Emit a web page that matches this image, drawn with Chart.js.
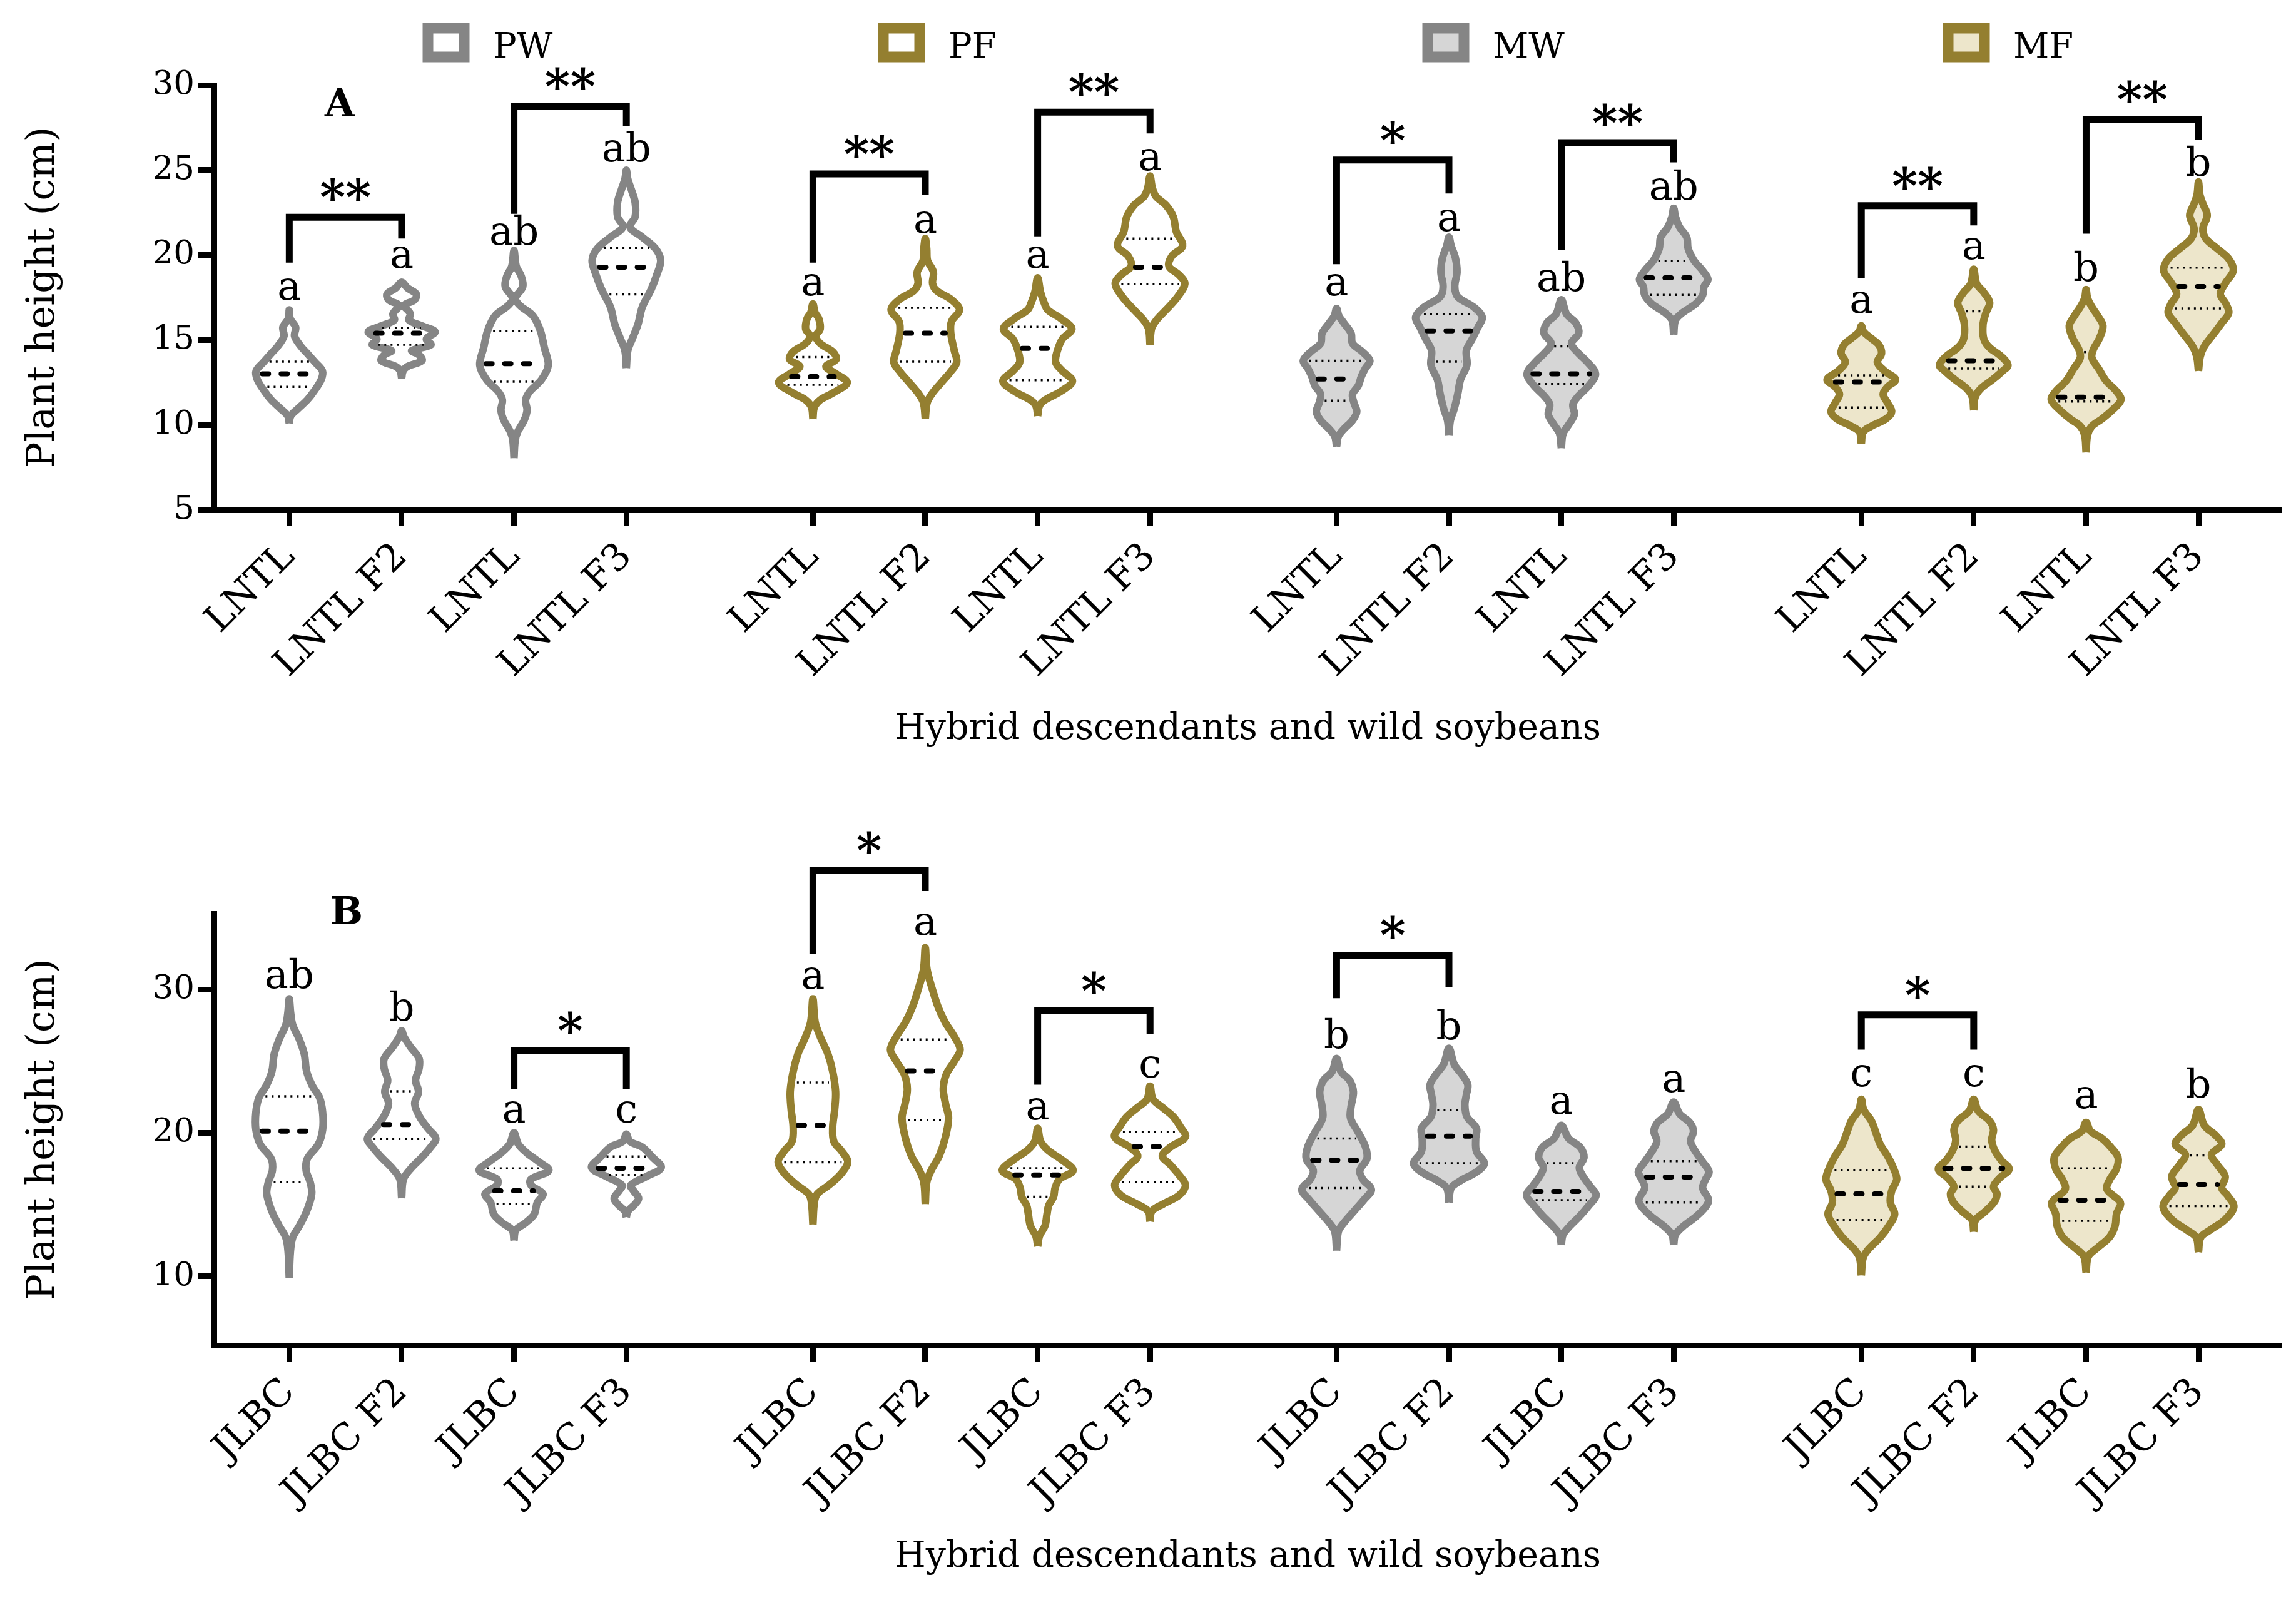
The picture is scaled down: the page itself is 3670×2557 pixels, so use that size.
<!DOCTYPE html>
<html>
<head>
<meta charset="utf-8">
<script src="https://cdn.jsdelivr.net/npm/chart.js@4.4.1/dist/chart.umd.min.js"></script>
<style>
html,body{margin:0;padding:0;background:#fff}
#wrapA{position:absolute;left:0;top:0;width:3670px;height:1240px}
#wrapB{position:absolute;left:0;top:1240px;width:3670px;height:1317px}
</style>
</head>
<body>
<div id="wrapA"><canvas id="chartA"></canvas></div>
<div id="wrapB"><canvas id="chartB"></canvas></div>
<script>
/* Categories */
const groupNames = ['PW', 'PF', 'MW', 'MF'];
const xPos = [0, 1, 2, 3, 4.66, 5.66, 6.66, 7.66, 9.32, 10.32, 11.32, 12.32, 13.99, 14.99, 15.99, 16.99];
const labelsA = ['LNTL','LNTL F2','LNTL','LNTL F3','LNTL','LNTL F2','LNTL','LNTL F3','LNTL','LNTL F2','LNTL','LNTL F3','LNTL','LNTL F2','LNTL','LNTL F3'];
const labelsB = ['JLBC','JLBC F2','JLBC','JLBC F3','JLBC','JLBC F2','JLBC','JLBC F3','JLBC','JLBC F2','JLBC','JLBC F3','JLBC','JLBC F2','JLBC','JLBC F3'];
const yTicksA = [5, 10, 15, 20, 25, 30];
const yTicksB = [10, 20, 30];

/* Violin outlines: [height cm, half width in % of category spacing], bottom tip -> top tip */
const shapesA = [
  [[10.10,0],[10.53,1.3],[10.96,7.8],[11.47,16],[11.98,22],[12.67,28.4],[13.18,29.5],[13.69,23],[14.21,16],[14.63,10.3],[15.23,4.7],[15.75,5.7],[16.26,0.8],[16.77,0]],
  [[12.75,0],[13.18,1.3],[13.44,5.2],[13.78,18],[14.12,15.5],[14.38,9],[14.72,26],[15.06,22],[15.49,29.7],[15.83,18],[16.17,6.5],[16.52,7.8],[16.77,5.2],[17.03,2],[17.37,11.6],[17.71,13],[18.06,5.2],[18.40,0]],
  [[8.05,0],[9.07,1],[9.58,3.1],[10.27,9],[10.87,11.6],[11.47,10.3],[11.98,14.2],[12.67,24.5],[13.52,30.5],[14.55,27],[15.58,23.3],[16.43,16.8],[17.03,5.2],[17.46,1.3],[18.14,7.8],[18.74,6.5],[19.34,2],[20.28,0]],
  [[13.35,0],[14.38,1.3],[15.06,5.2],[15.92,10.3],[16.94,14.2],[17.97,22],[18.83,27],[19.68,30.5],[20.37,26],[21.05,14.2],[21.65,3.1],[22.25,7.8],[23.10,7.8],[23.79,4.7],[24.47,1.3],[24.99,0]],
  [[10.36,0],[11.04,1.3],[11.47,6.5],[11.89,18],[12.49,30.5],[13.01,20.7],[13.44,11.6],[13.86,20.7],[14.29,18],[14.80,6.5],[15.23,2.6],[15.66,6.5],[16.26,5.2],[16.60,2],[17.12,0]],
  [[10.36,0],[11.30,1.6],[11.81,5.7],[12.49,14.2],[13.09,22],[13.69,28],[14.38,25.8],[15.40,22.7],[16.09,23.3],[16.77,30.5],[17.37,23.3],[17.89,10.3],[18.31,6.5],[19.00,7.2],[19.68,2],[20.37,1.3],[20.97,0]],
  [[10.53,0],[11.13,1.6],[11.47,6.5],[11.98,20.7],[12.58,31],[13.18,22],[13.69,16],[14.38,17.6],[15.06,22],[15.66,30.5],[16.26,20.7],[16.77,9],[17.20,5.7],[17.80,2.6],[18.66,0]],
  [[14.72,0],[15.66,1.3],[16.17,5.7],[16.77,14.2],[17.54,24.5],[18.31,31],[18.83,25.8],[19.34,16.8],[19.94,19.4],[20.54,29],[21.39,23.3],[22.25,20.7],[22.93,14.2],[23.45,5.2],[23.96,2],[24.65,0]],
  [[8.73,0],[9.33,1.6],[9.76,6.5],[10.27,14.2],[10.78,18],[11.30,15.5],[11.81,14.2],[12.32,19.4],[12.84,22],[13.35,25.8],[13.78,29.7],[14.29,23.3],[14.80,14.2],[15.40,12.9],[16.00,6.5],[16.43,2],[16.86,0]],
  [[9.41,0],[10.27,1.3],[10.95,4.7],[11.81,7.8],[12.67,10.3],[13.52,16],[14.38,15.5],[15.06,20.7],[15.75,25.8],[16.34,29.7],[16.94,22],[17.54,7.8],[18.14,5.2],[19.00,7.2],[19.85,5.7],[20.54,2],[21.05,0]],
  [[8.64,0],[9.50,1.6],[10.01,6.5],[10.61,11.6],[11.21,10.3],[11.72,15.5],[12.32,24.5],[13.01,30.5],[13.69,23.3],[14.29,14.2],[14.80,9],[15.40,15.5],[16.00,12.9],[16.52,4.7],[17.37,0]],
  [[15.32,0],[16.17,1.6],[16.60,7.8],[17.12,19.4],[17.63,25.8],[18.14,27],[18.57,30.5],[19.08,25.8],[19.68,18],[20.37,12.9],[21.05,11.6],[21.65,5.2],[22.25,1.6],[22.76,0]],
  [[8.90,0],[9.58,1.6],[9.93,9],[10.36,22],[10.78,27],[11.30,23.3],[11.81,19.4],[12.24,23.3],[12.67,30.5],[13.18,20.7],[13.69,14.2],[14.21,18],[14.72,15.5],[15.15,7.8],[15.49,2],[15.83,0]],
  [[10.87,0],[11.64,1.3],[12.15,6.5],[12.67,16.8],[13.18,25.8],[13.52,30.5],[14.04,24.5],[14.55,14.2],[15.06,9],[15.92,8.3],[16.60,10.9],[17.20,14.2],[17.80,9],[18.31,2.6],[19.17,0]],
  [[8.39,0],[9.41,1.3],[9.93,5.2],[10.36,14.2],[10.87,23.3],[11.47,31],[11.98,27],[12.58,18],[13.26,11.6],[13.95,5.2],[14.46,6.5],[15.06,11.6],[15.83,15],[16.43,10.3],[16.94,5.2],[17.46,1.3],[17.97,0]],
  [[13.18,0],[14.04,1.6],[14.63,5.2],[15.32,13],[16.00,20.7],[16.60,27],[17.12,24.5],[17.71,19.4],[18.40,24.5],[19.08,31],[19.77,27],[20.37,16.8],[20.97,6.5],[21.56,3.9],[22.34,7.8],[23.02,3.9],[23.53,1.3],[24.30,0]]
];
const shapesB = [
  [[9.88,0],[11.70,1],[12.72,3.1],[13.53,9],[14.55,15.5],[15.76,20],[16.58,18.6],[17.39,15],[18.20,16],[19.21,25.8],[20.23,29.7],[21.45,29.7],[22.46,27],[23.27,20.7],[24.29,15.5],[25.50,13.4],[26.52,9],[27.53,3.1],[28.34,1.3],[29.36,0]],
  [[15.46,0],[16.78,1.6],[17.49,7.8],[18.30,18],[19.01,25.8],[19.62,30.5],[20.33,23.3],[21.14,16],[22.05,11.6],[22.87,15],[23.68,12.4],[24.49,15.5],[25.20,15.5],[26.01,7.8],[26.72,2],[27.13,0]],
  [[12.52,0],[13.23,1.6],[13.74,10.3],[14.34,18],[15.16,20.7],[15.76,25.8],[16.37,15],[16.78,15],[17.39,31],[18.00,22],[18.60,11.6],[19.21,3.9],[20.02,0]],
  [[14.14,0],[14.55,1.3],[15.05,7.8],[15.46,10.9],[15.97,6.5],[16.37,3.9],[16.98,18],[17.59,31],[18.30,23.3],[19.01,14.2],[19.42,3.1],[19.92,0]],
  [[13.63,0],[15.16,1.3],[15.76,3.9],[16.37,14.2],[17.18,25.3],[17.99,31],[18.71,25.8],[19.42,18.6],[20.43,17.6],[21.65,19.4],[22.87,20.2],[24.29,17.6],[25.50,13.4],[26.72,6.5],[27.74,2],[29.36,0]],
  [[15.05,0],[16.57,1.3],[17.39,5.2],[18.40,12.4],[19.62,17.6],[21.04,20.7],[22.05,18],[23.07,16],[24.08,18.6],[25.00,25.8],[25.81,31],[26.72,25.8],[27.74,17.6],[28.75,11.6],[29.97,6.5],[31.39,1.6],[32.91,0]],
  [[12.11,0],[12.82,1.6],[13.53,6.5],[14.34,8.3],[14.95,9.8],[15.56,14.2],[16.17,15.5],[16.78,19.4],[17.39,31.5],[18.10,22],[18.81,9],[19.42,2.6],[20.33,0]],
  [[13.84,0],[14.55,1.6],[15.05,11.6],[15.66,25.8],[16.37,31.5],[17.08,25.8],[17.79,18],[18.40,10.9],[19.01,18],[19.72,31.5],[20.43,27],[21.14,20.7],[21.75,11.6],[22.36,2.6],[23.27,0]],
  [[11.81,0],[13.13,1.6],[13.74,6.5],[14.55,15.5],[15.36,24.5],[16.07,31],[16.78,23.3],[17.39,20.7],[18.20,27],[19.01,25.8],[20.03,19.4],[21.04,12.4],[21.85,12.9],[22.87,15],[23.68,11.6],[24.29,3.9],[25.20,0]],
  [[15.16,0],[16.17,2],[16.68,10.3],[17.29,24.5],[17.89,31.5],[18.71,24.5],[19.62,23.8],[20.33,24.5],[21.14,16],[21.95,14.2],[22.66,15.5],[23.37,16.8],[24.08,11.6],[24.79,4.7],[25.91,0]],
  [[12.21,0],[12.92,1.6],[13.53,7.8],[14.24,16.8],[14.95,24.5],[15.66,31],[16.27,25.8],[16.98,19.4],[17.59,16],[18.30,20.2],[19.01,16.8],[19.62,6.5],[20.53,0]],
  [[12.21,0],[12.92,1.6],[13.53,9],[14.14,19.4],[14.85,28.4],[15.36,31],[16.17,25.8],[16.78,28.4],[17.29,31.5],[17.99,25.8],[18.71,19.4],[19.42,15],[20.13,17.6],[20.74,14.2],[21.34,5.2],[22.16,0]],
  [[10.08,0],[11.30,1.6],[11.91,6.5],[12.72,16.8],[13.53,24.5],[14.34,29.7],[15.16,25.8],[15.97,27],[16.78,31.5],[17.59,28.4],[18.40,23.3],[19.21,16.8],[20.03,12.9],[20.84,9],[21.65,2],[22.36,0]],
  [[13.13,0],[13.94,1.6],[14.45,9],[15.16,18],[15.76,20.7],[16.27,17.6],[16.88,23.3],[17.49,31.5],[18.10,24.5],[18.81,18.6],[19.52,16],[20.23,17.6],[20.84,14.2],[21.55,3.9],[22.36,0]],
  [[10.28,0],[11.40,2],[12.01,10.3],[12.72,20.7],[13.53,25.8],[14.34,27],[15.16,30.5],[16.07,18.6],[16.78,21.2],[17.49,27],[18.30,28.4],[19.01,22],[19.62,14.2],[20.13,3.9],[20.74,0]],
  [[11.70,0],[12.72,2],[13.23,10.3],[13.94,23.3],[14.85,31.5],[15.66,25.8],[16.17,20.7],[16.98,23.8],[17.79,16.8],[18.50,11.6],[19.21,20.7],[19.82,15.5],[20.53,5.2],[21.65,0]]
];

/* Quartiles [Q1, median, Q3] */
const quartA = [[12.24,13.01,13.73],[14.72,15.40,15.71],[12.55,13.61,15.52],[17.68,19.29,20.42],
  [12.36,12.84,14.00],[13.73,15.40,16.89],[12.63,14.51,15.78],[18.28,19.29,20.97],
  [11.43,12.70,13.78],[13.73,15.54,16.52],[12.41,13.01,14.63],[17.66,18.66,19.65],
  [11.03,12.53,12.92],[13.32,13.78,16.69],[11.38,11.64,14.29],[16.86,18.14,19.26]];
const quartB = [[16.58,20.13,22.56],[19.58,20.59,22.91],[15.05,15.97,17.53],[17.08,17.55,18.36],
  [17.96,20.53,23.52],[20.90,24.33,26.52],[15.56,17.08,17.55],[16.58,19.05,20.07],
  [16.17,18.10,19.62],[17.89,19.78,21.61],[15.32,15.93,17.89],[15.16,16.94,18.04],
  [13.94,15.76,17.43],[16.27,17.53,19.05],[13.88,15.32,17.53],[14.91,16.41,18.44]];

/* Significance letters and where their baseline sits (cm) */
const lettersA = ['a','a','ab','ab','a','a','a','a','a','a','ab','ab','a','a','b','b'];
const letterYA = [17.37,19.25,20.62,25.5,17.63,21.31,19.25,24.99,17.63,21.43,17.89,23.28,16.6,19.77,18.49,24.65];
const lettersB = ['ab','b','a','c','a','a','a','c','b','b','a','a','c','c','a','b'];
const letterYB = [30.13,27.84,20.74,20.74,30.07,33.82,20.94,23.88,25.91,26.52,21.34,22.87,23.27,23.27,21.75,22.46];

/* Brackets: [from, to, top cm, left end cm, right end cm, stars] */
const bracketsA = [[0,1,22.22,19.55,20.97,'**'],[2,3,28.75,22.42,27.59,'**'],[4,5,24.77,19.55,23.53,'**'],[6,7,28.41,21.10,27.16,'**'],
  [8,9,25.59,19.46,23.62,'*'],[10,11,26.61,20.28,25.45,'**'],[12,13,22.90,18.66,21.74,'**'],[14,15,27.98,21.26,26.79,'**']];
const bracketsB = [[2,3,25.75,23.07,23.07,'*'],[4,5,38.29,32.50,36.87,'*'],[6,7,28.55,23.37,26.92,'*'],[8,9,32.40,29.40,30.17,'*'],[12,13,28.24,25.81,25.81,'*']];

/* Styles */
const strokeCol = ['#858585', '#947f30', '#858585', '#947f30'];
const fillCol = ['#ffffff', '#ffffff', '#d6d6d6', '#ede6cb'];
const FONT = 'DejaVu Serif';

function outline(shape, x) {
  const right = shape.map(([v, w]) => ({x: x + w / 100, y: v}));
  const left = shape.slice(0, -1).reverse().map(([v, w]) => ({x: x - w / 100, y: v}));
  return right.concat(left);
}
function halfWidthAt(shape, v) {
  for (let k = 1; k < shape.length; k++) {
    const [v0, w0] = shape[k - 1], [v1, w1] = shape[k];
    if (v >= v0 && v <= v1) return (w0 + (w1 - w0) * (v - v0) / (v1 - v0)) / 100;
  }
  return 0;
}

function buildDatasets(shapes, quarts, brackets) {
  const common = {pointRadius: 0, pointHoverRadius: 0, clip: false};
  const ds = [];
  shapes.forEach((s, i) => {
    const g = Math.floor(i / 4);
    ds.push({...common, data: outline(s, xPos[i]), borderColor: strokeCol[g], backgroundColor: fillCol[g],
      fill: 'shape', borderWidth: 12, tension: 0.35, borderJoinStyle: 'round', order: 3});
    quarts[i].forEach((q, k) => {
      const hw = Math.max(0, halfWidthAt(s, q) * 0.96 - 0.04);
      const med = k === 1;
      ds.push({...common, data: [{x: xPos[i] - hw, y: q}, {x: xPos[i] + hw, y: q}], borderColor: '#000',
        borderWidth: med ? 8 : 3.5, borderDash: med ? [10, 20] : [3, 7], borderCapStyle: med ? 'round' : 'butt',
        fill: false, tension: 0, order: 1});
    });
  });
  brackets.forEach(([i, j, top, l, r]) => {
    ds.push({...common, data: [{x: xPos[i], y: l}, {x: xPos[i], y: top}, {x: xPos[j], y: top}, {x: xPos[j], y: r}],
      borderColor: '#000', borderWidth: 11, borderJoinStyle: 'miter', borderCapStyle: 'butt', fill: false, tension: 0, order: 2});
  });
  return ds;
}

/* letters, stars, panel tag and (panel A only) the legend */
function annotations(cfg) {
  return {
    id: 'annot' + cfg.panel,
    afterDatasetsDraw(chart) {
      const {ctx, scales: {x, y}} = chart;
      ctx.save();
      ctx.fillStyle = '#000';
      ctx.textAlign = 'center';
      ctx.textBaseline = 'alphabetic';
      ctx.font = `64px "${FONT}"`;
      cfg.letters.forEach((t, i) => ctx.fillText(t, x.getPixelForValue(xPos[i]), y.getPixelForValue(cfg.letterY[i])));
      ctx.font = `bold 78px "${FONT}"`;
      cfg.brackets.forEach(([i, j, top, , , s]) =>
        ctx.fillText(s, x.getPixelForValue((xPos[i] + xPos[j]) / 2), y.getPixelForValue(top) - 4));
      ctx.font = `bold 62px "${FONT}"`;
      ctx.fillText(cfg.panel, x.getPixelForValue(cfg.panelAt[0]), y.getPixelForValue(cfg.panelAt[1]));
      if (cfg.legend) {
        const boxX = [676, 1404, 2274, 3106];
        ctx.textAlign = 'left';
        ctx.font = `56px "${FONT}"`;
        groupNames.forEach((n, k) => {
          ctx.fillStyle = fillCol[k];
          ctx.fillRect(boxX[k] + 8, 45, 58, 46);
          ctx.strokeStyle = strokeCol[k];
          ctx.lineWidth = 17;
          ctx.strokeRect(boxX[k] + 8, 45, 58, 46);
          ctx.fillStyle = '#000';
          ctx.fillText(n, boxX[k] + 112, 92);
        });
      }
      ctx.restore();
    }
  };
}

function makeChart(id, cfg) {
  const axisBits = {
    grid: {drawOnChartArea: false, drawTicks: true, tickLength: 26, tickWidth: 9, tickColor: '#000'},
    border: {display: true, color: '#000', width: 9}
  };
  return new Chart(document.getElementById(id), {
    type: 'line',
    data: {datasets: buildDatasets(cfg.shapes, cfg.quarts, cfg.brackets)},
    options: {
      devicePixelRatio: 1, responsive: true, maintainAspectRatio: false, animation: false, events: [],
      layout: {padding: {top: cfg.padTop, right: 23, left: 0, bottom: 0}},
      plugins: {legend: {display: false}, tooltip: {enabled: false}},
      scales: {
        x: {
          type: 'linear', min: -0.67, max: 17.73, ...axisBits,
          afterBuildTicks: s => { s.ticks = xPos.map(v => ({value: v})); },
          afterFit: s => { s.height = cfg.xHeight; },
          ticks: {callback: (v, i) => cfg.labels[i], autoSkip: false, minRotation: 45, maxRotation: 45, padding: 14,
            color: '#000', font: {family: FONT, size: 60}},
          title: {display: true, text: 'Hybrid descendants and wild soybeans', color: '#000',
            font: {family: FONT, size: 57}, padding: {top: 0, bottom: cfg.xTitlePad}}
        },
        y: {
          type: 'linear', min: cfg.yMin, max: cfg.yMax, ...axisBits,
          afterBuildTicks: s => { s.ticks = cfg.yTicks.map(v => ({value: v})); },
          afterFit: s => { s.width = 342; },
          ticks: {autoSkip: false, padding: 5, color: '#000', font: {family: FONT, size: 53}},
          title: {display: true, text: 'Plant height (cm)', color: '#000',
            font: {family: FONT, size: 62}, padding: {top: 33, bottom: 0}}
        }
      }
    },
    plugins: [annotations(cfg)]
  });
}

makeChart('chartA', {shapes: shapesA, quarts: quartA, brackets: bracketsA, labels: labelsA, letters: lettersA, letterY: letterYA,
  yMin: 5, yMax: 30, yTicks: yTicksA, padTop: 136, xHeight: 1240 - 815, xTitlePad: 40,
  panel: 'A', panelAt: [0.45, 28.17], legend: true});
makeChart('chartB', {shapes: shapesB, quarts: quartB, brackets: bracketsB, labels: labelsB, letters: lettersB, letterY: letterYB,
  yMin: 5.2, yMax: 35.3, yTicks: yTicksB, padTop: 220, xHeight: 1317 - 910, xTitlePad: 34,
  panel: 'B', panelAt: [0.51, 34.56], legend: false});
</script>
</body>
</html>
